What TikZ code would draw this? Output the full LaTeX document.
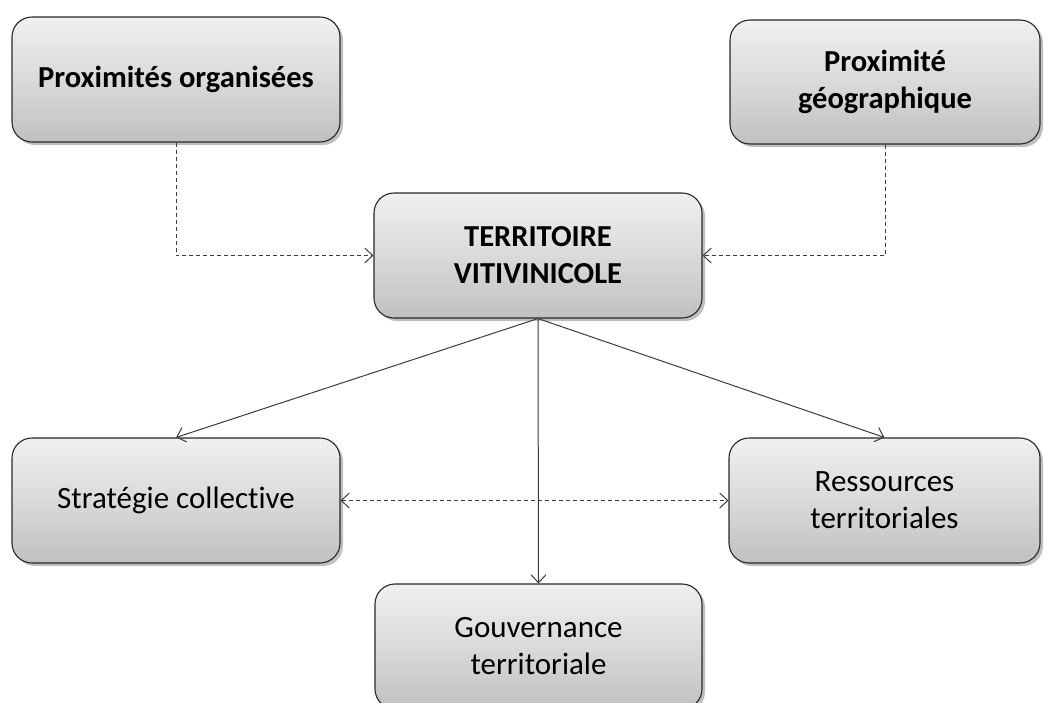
\documentclass[tikz,border=0pt]{standalone}
\usepackage{fontspec}
\setmainfont{Carlito}[Ligatures=NoCommon]
\usetikzlibrary{arrows.meta,shadows}
\definecolor{boxtop}{RGB}{240,240,240}
\definecolor{boxbot}{RGB}{192,192,192}
\definecolor{edge}{RGB}{40,40,40}
\definecolor{conn}{RGB}{60,60,60}
\tikzset{
  box/.style={draw=edge, line width=1.1pt, rounded corners=20pt,
    top color=boxtop, bottom color=boxbot, middle color={rgb,255:red,218;green,218;blue,218},
    inner sep=0pt, align=center, text=black,
    font=\fontsize{31}{37}\selectfont,
    drop shadow={shadow xshift=3pt, shadow yshift=-3pt, opacity=0.25, fill=black}},
  bbox/.style={box, font=\fontsize{30.5}{37}\selectfont\bfseries},
  conline/.style={draw=conn, line width=1pt, -{Straight Barb[length=8pt,width=15pt]}},
  dashline/.style={conline, dash pattern=on 4pt off 3pt}
}
\begin{document}
\begin{tikzpicture}[x=1pt,y=-1pt]
\useasboundingbox (0,0) rectangle (1048,702);
\clip (0,0) rectangle (1048,702);
\fill[white] (0,0) rectangle (1048,702);
\node[bbox, minimum width=328pt, minimum height=125pt] (po) at (176,79.5) {Proximités organisées};
\node[bbox, minimum width=310pt, minimum height=124pt] (pg) at (885,82) {Proximité\\géographique};
\node[bbox, minimum width=328pt, minimum height=125pt] (tv) at (538,255.5) {TERRITOIRE\\VITIVINICOLE};
\node[box, minimum width=328pt, minimum height=125pt] (sc) at (176,500.5) {Stratégie collective};
\node[box, minimum width=311pt, minimum height=125pt] (rt) at (884.5,500.5) {Ressources\\territoriales};
\node[box, minimum width=327pt, minimum height=125pt] (gt) at (538.5,646.5) {Gouvernance\\territoriale};
\draw[dashline] (po.south) |- (tv.west);
\draw[dashline] (pg.south) |- (tv.east);
\draw[conline] (tv.south) -- (sc.north);
\draw[conline] (tv.south) -- (rt.north);
\draw[conline] (tv.south) -- (gt.north);
\draw[dashline, {Straight Barb[length=8pt,width=15pt]}-{Straight Barb[length=8pt,width=15pt]}] (sc.east) -- (rt.west);
\end{tikzpicture}
\end{document}
